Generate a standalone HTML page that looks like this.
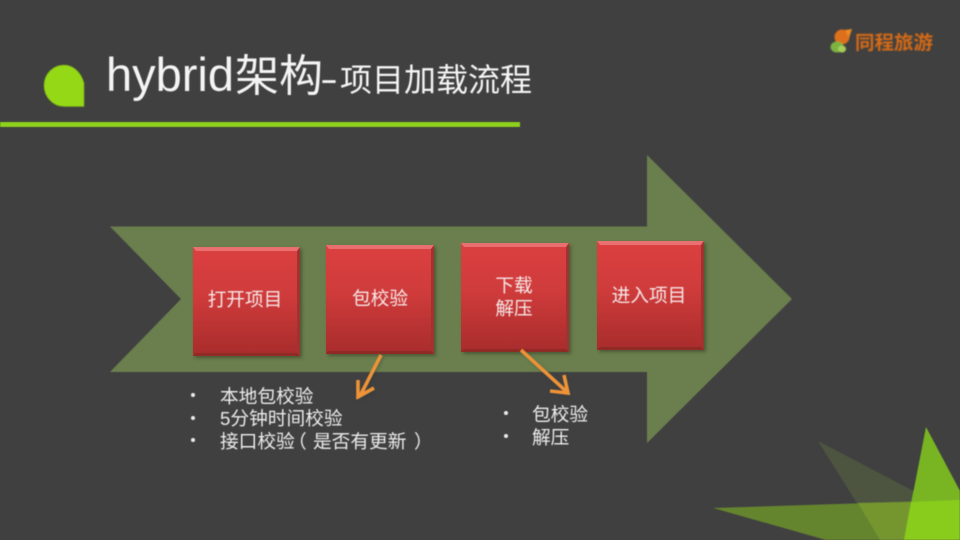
<!DOCTYPE html>
<html><head><meta charset="utf-8">
<style>
html,body{margin:0;padding:0;background:#404040;}
svg{display:block;}
text{font-family:"Liberation Sans","Noto Sans CJK SC",sans-serif;}
</style></head>
<body>
<svg width="960" height="540" viewBox="0 0 960 540" xmlns="http://www.w3.org/2000/svg">
<defs>
<linearGradient id="red" x1="0" y1="0" x2="0" y2="1">
<stop offset="0" stop-color="#dc4040"/><stop offset="0.45" stop-color="#cf3b3b"/><stop offset="1" stop-color="#a82c2c"/>
</linearGradient>
<filter id="soft" x="-5%" y="-5%" width="110%" height="110%"><feGaussianBlur stdDeviation="0.55"/></filter>
<filter id="soft2" x="-10%" y="-10%" width="120%" height="120%"><feGaussianBlur stdDeviation="0.8"/></filter>
<filter id="shadow" x="-10%" y="-10%" width="120%" height="120%"><feGaussianBlur stdDeviation="1.5"/></filter>
</defs>
<rect width="960" height="540" fill="#404040"/>

<!-- Title marker -->
<path d="M84 106.500 L84 83 C81 72 73 65 64 65 C53 65 44 74 44 85.500 C44 97 53 106.500 64 106.500 Z" fill="#94d816" stroke="#6f9a1c" stroke-width="0.8" filter="url(#soft)"/>
<rect x="0" y="122" width="520" height="5" fill="#8fd01c" filter="url(#soft)"/>

<!-- Title -->
<g fill="#f4f4f4" filter="url(#soft)">
<text x="106" y="91" font-size="47">hybrid</text>
<text x="235" y="91" font-size="44">架构</text>
<text x="320" y="91" font-size="36" textLength="18" lengthAdjust="spacingAndGlyphs">-</text>
<text x="340" y="91" font-size="32">项目加载流程</text>
</g>

<!-- Logo -->
<g filter="url(#soft2)">
<circle cx="842" cy="37" r="7.500" fill="#dd6f1a"/>
<path d="M845 30 L852 29 L849 38 Z" fill="#ee8a1e"/>
<ellipse cx="837" cy="47" rx="6.500" ry="5.500" fill="#7cb342"/>
<ellipse cx="842" cy="49" rx="4" ry="3.500" fill="#a6cf5a"/>
<text x="855" y="49" font-size="19" font-weight="bold" fill="#d66b16" textLength="78" lengthAdjust="spacingAndGlyphs">同程旅游</text>
</g>

<!-- Main arrow -->
<polygon points="110,226.500 647,226.500 647,155 792,299 647,443 647,372 110,372 181,299" fill="#6b7f4d" filter="url(#soft)"/>

<!-- Boxes -->
<g>
<rect x="195" y="249" width="107" height="109" fill="#2a2a1c" opacity="0.45" filter="url(#shadow)"/>
<rect x="193" y="247" width="107" height="109" fill="url(#red)"/>
<polygon points="193,247 300,247 297,251 196,251" fill="#e87070"/>
<polygon points="193,356 300,356 297,353 196,353" fill="#8f2a25"/>
<polygon points="300,247 300,356 297,353 297,251" fill="#a03330"/>

<rect x="328" y="247" width="108" height="109" fill="#2a2a1c" opacity="0.45" filter="url(#shadow)"/>
<rect x="326" y="245" width="108" height="109" fill="url(#red)"/>
<polygon points="326,245 434,245 431,249 329,249" fill="#e87070"/>
<polygon points="326,354 434,354 431,351 329,351" fill="#8f2a25"/>
<polygon points="434,245 434,354 431,351 431,249" fill="#a03330"/>

<rect x="463" y="245" width="108" height="109" fill="#2a2a1c" opacity="0.45" filter="url(#shadow)"/>
<rect x="461" y="243" width="108" height="109" fill="url(#red)"/>
<polygon points="461,243 569,243 566,247 464,247" fill="#e87070"/>
<polygon points="461,352 569,352 566,349 464,349" fill="#8f2a25"/>
<polygon points="569,243 569,352 566,349 566,247" fill="#a03330"/>

<rect x="599" y="243" width="107" height="109" fill="#2a2a1c" opacity="0.45" filter="url(#shadow)"/>
<rect x="597" y="241" width="107" height="109" fill="url(#red)"/>
<polygon points="597,241 704,241 701,245 600,245" fill="#e87070"/>
<polygon points="597,350 704,350 701,347 600,347" fill="#8f2a25"/>
<polygon points="704,241 704,350 701,347 701,245" fill="#a03330"/>
</g>

<!-- Box labels -->
<g fill="#f6e6e6" font-size="18.700" text-anchor="middle" filter="url(#soft)">
<text x="245" y="306">打开项目</text>
<text x="380" y="305">包校验</text>
<text x="514" y="292">下载</text>
<text x="514" y="315">解压</text>
<text x="649" y="302">进入项目</text>
</g>

<!-- Orange arrows -->
<g fill="none" stroke="#20303c" stroke-width="3.500" opacity="0.35" filter="url(#shadow)">
<path d="M382 357 L361 398 M359 382 L359 398 L375 391"/>
<path d="M522 351 L569 394 M551 391 L568 394 L565 376"/>
</g>
<g fill="none" stroke="#ee9338" stroke-width="3.600" filter="url(#soft)">
<path d="M381 355 L360 396"/>
<path d="M358 380 L358 397 L374 388"/>
<path d="M521 350 L567 392"/>
<path d="M550 391 L568 393 L564 375"/>
</g>

<!-- Bullets -->
<g fill="#ececec" filter="url(#soft)">
<circle cx="193" cy="395" r="2"/>
<circle cx="193" cy="418" r="2"/>
<circle cx="193" cy="440" r="2"/>
<circle cx="506" cy="413" r="2"/>
<circle cx="506" cy="436" r="2"/>
<g font-size="18.700">
<text x="220" y="403">本地包校验</text>
<text x="220" y="425">5分钟时间校验</text>
<text x="220" y="448">接口校验<tspan x="288">（</tspan><tspan x="313">是否有更新</tspan><tspan x="414">）</tspan></text>
<text x="532" y="421">包校验</text>
<text x="532" y="444">解压</text>
</g>
</g>

<!-- Decorative triangles -->
<g filter="url(#soft)">
<polygon points="818,441 925,497 895,540 880,540" fill="#4d5540"/>
<polygon points="713,508 960,500 960,540 826,540" fill="#65842f"/>
<polygon points="858,503 911,502 904,540 880,540" fill="#75962f"/>
<polygon points="926,427 960,491 960,540 904,540" fill="#79b524"/>
<polygon points="911,502 960,500 960,540 904,540" fill="#89cc1e"/>
</g>
</svg>
</body></html>
